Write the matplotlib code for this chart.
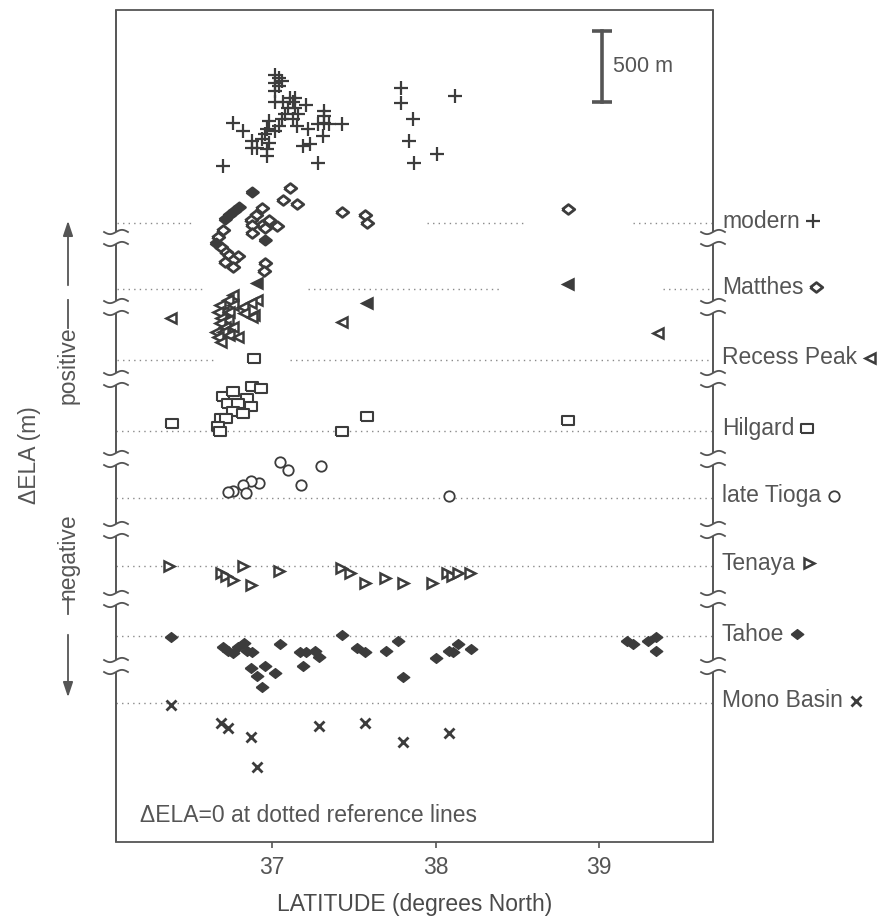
import numpy as np
import matplotlib
matplotlib.use("Agg")
from matplotlib import pyplot as plt

plt.rcParams['font.family'] = ['Liberation Sans', 'DejaVu Sans']

# stage names (top to bottom) and the height of each dotted reference line (m, stacked scale)
stages = ['modern', 'Matthes', 'Recess Peak', 'Hilgard', 'late Tioga', 'Tenaya', 'Tahoe', 'Mono Basin']
ref_level = [4330, 3870, 3375, 2880, 2410, 1935, 1440, 975]

# latitude (deg N) and delta ELA (m) relative to each stage's reference line
modern_lat = [37.02, 37.04, 37.06, 37.02, 37.04, 37.02, 37.11, 37.14, 37.02, 37.07, 37.13, 37.21,
              37.10, 37.14, 37.32, 37.32, 37.08, 37.16, 37.06, 37.13, 37.32, 37.28, 37.35, 37.43,
              36.76, 36.82, 36.98, 37.04, 37.15, 37.22, 36.97, 36.96, 37.02, 37.31, 36.88, 36.94,
              36.98, 36.88, 36.91, 36.97, 37.19, 37.23, 36.97, 37.28, 36.70,
              37.79, 37.79, 38.12, 37.86, 37.84, 38.01, 37.87]
modern_d = [1040, 1020, 1000, 980, 960, 925, 880, 875, 850, 850, 850, 830,
            810, 805, 785, 755, 765, 765, 730, 730, 705, 695, 695, 695,
            700, 650, 720, 680, 680, 660, 660, 625, 645, 610, 575, 590,
            565, 530, 530, 520, 540, 555, 470, 425, 400,
            950, 840, 890, 730, 575, 485, 425]

matthes_lat = [37.11, 37.07, 37.15, 36.94, 36.90, 36.87, 36.98, 37.03, 36.94, 36.88, 36.88, 36.96,
               36.70, 36.67, 36.69, 36.72, 36.74, 36.79, 36.76, 36.71, 36.76, 36.96, 36.95,
               37.43, 37.57, 37.58, 38.81]
matthes_d = [705, 625, 595, 565, 520, 485, 485, 440, 450, 450, 390, 425,
             415, 365, 295, 260, 240, 230, 205, 190, 155, 180, 125,
             540, 520, 460, 560]
matthes_fill_lat = [36.88, 36.80, 36.77, 36.74, 36.71, 36.66, 36.96]
matthes_fill_d = [680, 575, 545, 520, 490, 320, 345]

recess_lat = [36.76, 36.73, 36.91, 36.87, 36.68, 36.76, 36.82, 36.70, 36.67, 36.74, 36.89, 36.83,
              36.69, 36.73, 36.68, 36.71, 36.76, 36.66, 36.70, 36.74, 36.67, 36.79, 36.69,
              36.38, 36.88, 37.43, 39.36]
recess_d = [455, 420, 420, 400, 385, 385, 370, 335, 335, 335, 315, 330,
            295, 280, 260, 230, 230, 195, 195, 175, 160, 160, 125,
            295, 300, 265, 190]
recess_fill_lat = [36.91, 37.58, 38.81]
recess_fill_d = [540, 400, 530]

hilgard_lat = [36.89, 36.88, 36.93, 36.70, 36.76, 36.85, 36.73, 36.79, 36.87, 36.76, 36.82,
               36.69, 36.72, 36.67, 36.68, 36.39, 37.58, 37.43, 38.81]
hilgard_d = [505, 315, 295, 245, 280, 230, 190, 195, 175, 140, 125,
             90, 85, 35, 0, 55, 105, 0, 75]

tioga_lat = [37.05, 37.10, 37.30, 37.18, 36.92, 36.87, 36.82, 36.84, 36.76, 36.73, 38.08]
tioga_d = [250, 195, 225, 90, 105, 120, 90, 35, 50, 40, 15]

tenaya_lat = [36.37, 36.69, 36.72, 36.76, 36.82, 36.87, 37.04, 37.42, 37.48, 37.57, 37.69,
              37.80, 37.98, 38.07, 38.10, 38.14, 38.21]
tenaya_d = [-5, -55, -70, -100, -5, -135, -40, -15, -50, -120, -85,
            -120, -120, -55, -75, -50, -55]

tahoe_lat = [36.38, 36.70, 36.73, 36.76, 36.79, 36.83, 36.85, 36.88, 37.05, 37.17, 37.21, 37.26,
             37.29, 37.43, 37.52, 37.57, 37.70, 37.77, 36.87, 36.96, 37.02, 36.91, 36.94, 37.19,
             37.80, 38.00, 38.08, 38.11, 38.14, 38.22, 39.17, 39.21, 39.30, 39.35, 39.35]
tahoe_d = [-5, -75, -100, -120, -75, -50, -100, -110, -55, -110, -110, -105,
           -145, 10, -85, -110, -100, -30, -225, -205, -260, -280, -355, -205,
           -285, -155, -100, -110, -55, -90, -30, -55, -30, -5, -100]

mono_lat = [36.38, 36.69, 36.73, 36.87, 36.91, 37.29, 37.57, 37.80, 38.08]
mono_d = [-15, -140, -175, -240, -450, -160, -145, -275, -210]

# gaps left in the dotted reference lines (lat ranges that are drawn)
ref_segments = {
    'modern': [(36.05, 36.52), (37.95, 38.54), (39.21, 39.70)],
    'Matthes': [(36.05, 36.58), (37.22, 38.39), (39.39, 39.70)],
    'Recess Peak': [(36.05, 36.66), (37.11, 39.70)],
}
# axis breaks on the side spines (m)
breaks = [1232, 1701, 2184, 2681, 3241, 3745, 4228]

XLIM = (36.046, 39.697)
YLIM = (0, 5824)
INK = '#3c3c3c'
TXT = '#555555'
FS = 16.5

W, H = 887, 919
fig = plt.figure(figsize=(W / 100, H / 100), dpi=100)
ax = fig.add_axes([116 / W, 1 - 842 / H, (713 - 116) / W, (842 - 10) / H])
ax.set_xlim(*XLIM)
ax.set_ylim(*YLIM)

diamond = [(-1, 0), (0, 0.78), (1, 0), (0, -0.78), (-1, 0)]
rect = [(-1, -0.72), (1, -0.72), (1, 0.72), (-1, 0.72), (-1, -0.72)]

styles = {
    'modern': dict(marker='+', ms=9.5, mew=1.6, color=INK, ls='none'),
    'Matthes': dict(marker=diamond, ms=9, mew=2.0, mec=INK, mfc='white', ls='none'),
    'Recess Peak': dict(marker='<', ms=7, mew=1.8, mec=INK, mfc='white', ls='none'),
    'Hilgard': dict(marker=rect, ms=9, mew=1.5, mec=INK, mfc='white', ls='none'),
    'late Tioga': dict(marker='o', ms=7.5, mew=1.3, mec=INK, mfc='white', ls='none'),
    'Tenaya': dict(marker='>', ms=7, mew=1.8, mec=INK, mfc='white', ls='none'),
    'Tahoe': dict(marker=diamond, ms=9, mew=1.0, mec=INK, mfc=INK, ls='none'),
    'Mono Basin': dict(marker='x', ms=7, mew=2.0, color=INK, ls='none'),
}

series = {
    'modern': [(modern_lat, modern_d)],
    'Matthes': [(matthes_lat, matthes_d), (matthes_fill_lat, matthes_fill_d)],
    'Recess Peak': [(recess_lat, recess_d), (recess_fill_lat, recess_fill_d)],
    'Hilgard': [(hilgard_lat, hilgard_d)],
    'late Tioga': [(tioga_lat, tioga_d)],
    'Tenaya': [(tenaya_lat, tenaya_d)],
    'Tahoe': [(tahoe_lat, tahoe_d)],
    'Mono Basin': [(mono_lat, mono_d)],
}

# dotted reference lines
for name, lvl in zip(stages, ref_level):
    for x0, x1 in ref_segments.get(name, [XLIM]):
        ax.plot([x0, x1], [lvl, lvl], color='#8a8a8a', lw=1.0, ls=(0, (1, 3)), zorder=1)

# points (second group of a stage is drawn filled)
for name, lvl in zip(stages, ref_level):
    for i, (lat, d) in enumerate(series[name]):
        st = dict(styles[name])
        if i == 1:
            st['mfc'] = INK
            st['ms'] = st['ms'] * 0.95
        ax.plot(lat, lvl + np.array(d), zorder=3, **st)

# spines: top and bottom normal, sides drawn with breaks
for s in ['left', 'right']:
    ax.spines[s].set_visible(False)
for s in ['top', 'bottom']:
    ax.spines[s].set_color('#555555')
    ax.spines[s].set_linewidth(1.3)

yt = ax.get_yaxis_transform()
half = 42
edges = [YLIM[0]] + [v for b in breaks for v in (b - half, b + half)] + [YLIM[1]]
tt = np.linspace(-1, 1, 30)
for xs in (0.0, 1.0):
    for j in range(0, len(edges), 2):
        ax.plot([xs, xs], [edges[j], edges[j + 1]], transform=yt, color='#555555',
                lw=1.4, clip_on=False, solid_capstyle='butt')
    for b in breaks:
        for sgn in (-1, 1):
            ax.plot(xs + tt * 0.02, b + sgn * half + 15 * np.sin(np.pi * tt),
                    transform=yt, color='#555555', lw=1.3, clip_on=False)

# x axis
ax.set_xticks([37, 38, 39])
ax.tick_params(axis='x', direction='out', length=4, width=1.2, colors='#555555',
               labelsize=FS, labelcolor=TXT, pad=6)
ax.set_yticks([])
ax.set_xlabel('LATITUDE (degrees North)', fontsize=FS, color='#4a4a4a', labelpad=10)

# scale bar
SB_LAT, SB_TOP, SB_LEN = 39.02, 5677, 500
ax.plot([SB_LAT, SB_LAT], [SB_TOP - SB_LEN, SB_TOP], color='#555555', lw=2.6, zorder=4)
for yy in (SB_TOP, SB_TOP - SB_LEN):
    ax.plot([SB_LAT - 0.062, SB_LAT + 0.062], [yy, yy], color='#555555', lw=2.6,
            solid_capstyle='butt', zorder=4)
ax.text(SB_LAT + 0.065, SB_TOP - SB_LEN / 2, '500 m', fontsize=15.5, color=TXT,
        va='center', ha='left')

ax.text(0.04, 0.032, '\u0394ELA=0 at dotted reference lines', transform=ax.transAxes,
        fontsize=FS, color=TXT, va='center', ha='left')

# right-hand stage labels followed by their symbol
fig.canvas.draw()
rend = fig.canvas.get_renderer()
for name, lvl in zip(stages, ref_level):
    t = ax.text(1.0 + 9 / 597, lvl + 15, name, transform=yt, fontsize=FS, color=TXT,
                va='center', ha='left')
    bb = t.get_window_extent(rend)
    xm = ax.transAxes.inverted().transform((bb.x1 + 13, 0))[0]
    ax.plot([xm], [lvl + 15], transform=yt, clip_on=False, **styles[name])

# y-axis wording with arrows (figure pixels)
def fx(px):
    return px / W

def fy(py):
    return 1 - py / H

fig.text(fx(30), fy(455), '\u0394ELA (m)', rotation=90, fontsize=FS, color=TXT,
         ha='center', va='center')
fig.text(fx(68), fy(365), 'positive', rotation=90, fontsize=FS, color=TXT,
         ha='center', va='center')
fig.text(fx(68), fy(557), 'negative', rotation=90, fontsize=FS, color=TXT,
         ha='center', va='center')
fig.add_artist(plt.Line2D([fx(68), fx(68)], [fy(300), fy(328)], color='#555555', lw=1.3))
fig.add_artist(plt.Line2D([fx(68), fx(68)], [fy(597), fy(614)], color='#555555', lw=1.3))
ax.annotate('', xy=(fx(68), fy(218)), xytext=(fx(68), fy(288)), xycoords='figure fraction',
            arrowprops=dict(arrowstyle='-|>,head_length=0.9,head_width=0.3', color='#555555', lw=1.3))
ax.annotate('', xy=(fx(68), fy(700)), xytext=(fx(68), fy(632)), xycoords='figure fraction',
            arrowprops=dict(arrowstyle='-|>,head_length=0.9,head_width=0.3', color='#555555', lw=1.3))

fig.savefig('out.png', dpi=100)
